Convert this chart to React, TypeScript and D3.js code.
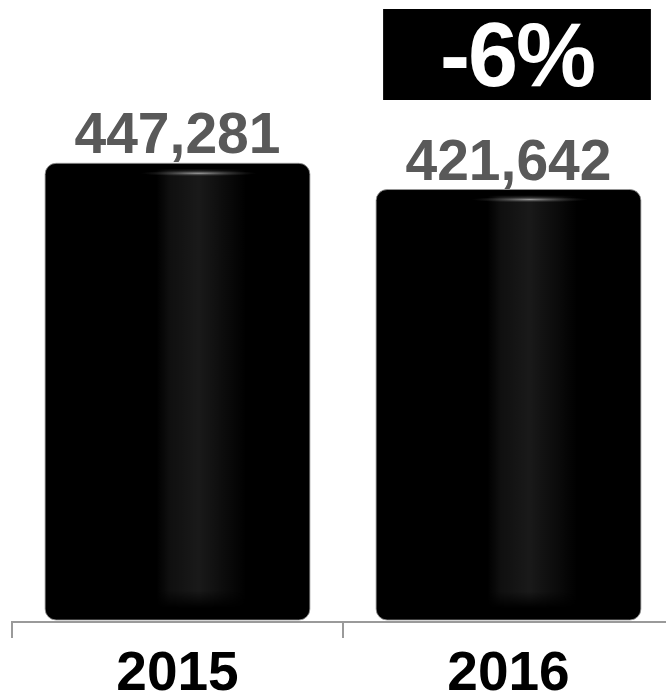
import * as d3 from "d3"

const years = ["2015", "2016"]
const visits = [447281, 421642]
const changeLabel = "-6%"

const W = 666
const H = 696
const FONT = "Arial, 'Liberation Sans', Helvetica, sans-serif"

export default function App() {
  const x = d3.scaleBand<string>()
    .domain(years)
    .range([12, 674])
    .paddingInner(0.2)
    .paddingOuter(0.1)
  const y = d3.scaleLinear().domain([0, 600000]).range([621, 7])
  const fmt = d3.format(",")
  const bw = x.bandwidth()
  const step = x.step()
  const ticks = years.map((d) => (x(d) ?? 0) - step * 0.1)

  // box sits above the last bar
  const last = years[years.length - 1]
  const boxX = (x(last) ?? 0) + 7
  const boxW = bw + 3

  return (
    <svg width={W} height={H} style={{ position: "absolute", left: 0, top: 0, background: "#fff" }}>
      <defs>
        <linearGradient id="stripe" x1="0" x2="1" y1="0" y2="0">
          <stop offset="0" stopColor="#fff" stopOpacity={0} />
          <stop offset="0.42" stopColor="#fff" stopOpacity={0} />
          <stop offset="0.47" stopColor="#fff" stopOpacity={0.06} />
          <stop offset="0.58" stopColor="#fff" stopOpacity={0.1} />
          <stop offset="0.68" stopColor="#fff" stopOpacity={0.045} />
          <stop offset="0.76" stopColor="#fff" stopOpacity={0} />
          <stop offset="1" stopColor="#fff" stopOpacity={0} />
        </linearGradient>
        <linearGradient id="fadeV" x1="0" x2="0" y1="0" y2="1">
          <stop offset="0" stopColor="#fff" stopOpacity={1} />
          <stop offset="0.96" stopColor="#fff" stopOpacity={1} />
          <stop offset="1" stopColor="#fff" stopOpacity={0} />
        </linearGradient>
        <mask id="stripeMask" maskContentUnits="objectBoundingBox">
          <rect x={0} y={0} width={1} height={1} fill="url(#fadeV)" />
        </mask>
        <radialGradient id="glow" cx="0.5" cy="0.5" r="0.5">
          <stop offset="0" stopColor="#bbb" stopOpacity={0.8} />
          <stop offset="0.5" stopColor="#888" stopOpacity={0.35} />
          <stop offset="1" stopColor="#555" stopOpacity={0} />
        </radialGradient>
      </defs>

      {years.map((yr, i) => {
        const x0 = x(yr) ?? 0
        const top = y(visits[i])
        const bottom = y(0) - 1
        return (
          <g key={yr}>
            <rect x={x0} y={top} width={bw} height={bottom - top} rx={11} ry={11}
              fill="#000" stroke="#9a9a9a" strokeWidth={0.8} />
            <rect x={x0} y={top + 6} width={bw} height={bottom - top - 18}
              fill="url(#stripe)" mask="url(#stripeMask)" />
            <ellipse cx={x0 + bw * 0.58} cy={top + 10} rx={bw * 0.22} ry={3}
              fill="url(#glow)" />
            <text x={x0 + bw / 2} y={top - 10} textAnchor="middle"
              fontFamily={FONT} fontWeight="bold" fontSize={57} fill="#595959">
              {fmt(visits[i])}
            </text>
            <text x={x0 + bw / 2} y={690} textAnchor="middle"
              fontFamily={FONT} fontWeight="bold" fontSize={55} fill="#000">
              {yr}
            </text>
          </g>
        )
      })}

      <line x1={12} x2={W} y1={622} y2={622} stroke="#9a9a9a" strokeWidth={2.2} />
      {ticks.map((t) => (
        <line key={t} x1={t} x2={t} y1={621} y2={638} stroke="#9a9a9a" strokeWidth={2} />
      ))}

      <rect x={boxX} y={9} width={boxW} height={91} fill="#000" />
      <text x={boxX + boxW / 2} y={86} textAnchor="middle"
        fontFamily={FONT} fontWeight="bold" fontSize={90} fill="#fff" letterSpacing={-2}>
        {changeLabel}
      </text>
    </svg>
  )
}
